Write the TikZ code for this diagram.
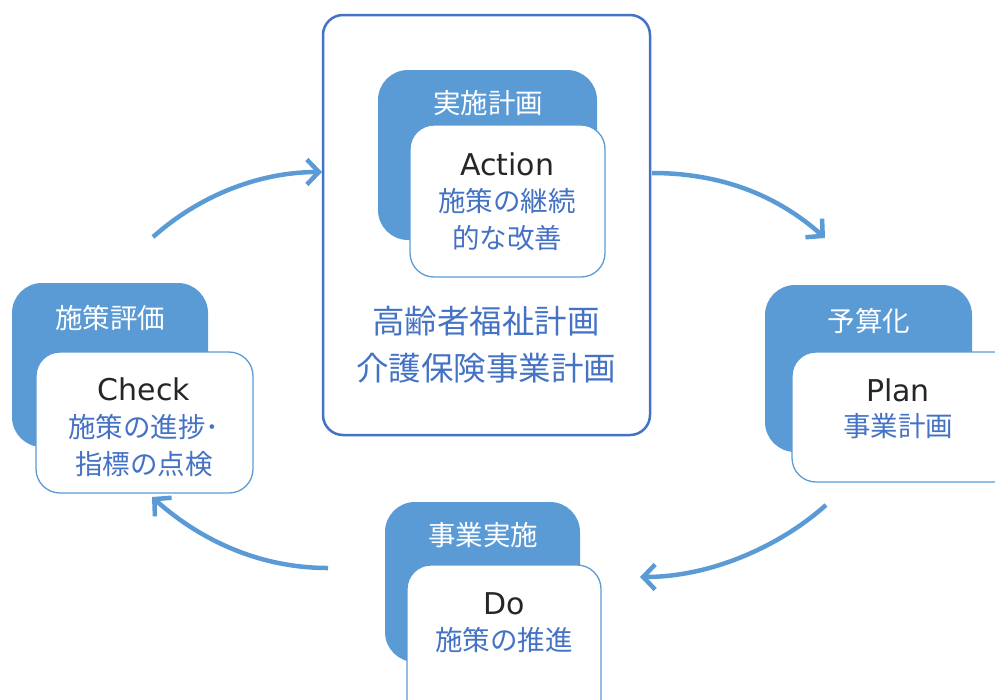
\documentclass[tikz,border=0pt]{standalone}
\usepackage{fontspec}
\setmainfont{Noto Sans CJK JP}
\newfontfamily\latinfont{DejaVu Sans}
\usepackage{xcolor}
\usetikzlibrary{arrows.meta, positioning}
\definecolor{backblue}{HTML}{5B9BD5}
\definecolor{frameblue}{HTML}{4472C4}
\definecolor{textblue}{HTML}{4472C4}
\definecolor{textblack}{HTML}{262626}
\tikzset{
	backbox/.style={rectangle, rounded corners=30pt, fill=backblue, draw=none},
	frontbox/.style={rectangle, rounded corners=24pt, fill=white, draw=backblue, line width=1.3pt},
	cycle/.style={draw=backblue, line width=4.5pt, -{Straight Barb[length=12pt,width=25pt,line width=4.5pt]}}
}
\newcommand{\jpsize}{\fontsize{27.5}{37}\selectfont}
\newcommand{\ensize}{\fontsize{30}{37}\selectfont\latinfont}

\begin{document}
\begin{tikzpicture}[
	x=1pt, y=-1pt,
	tag/.style={text=white, font=\jpsize},
	head/.style={text=textblack, font=\ensize},
	sub/.style={text=textblue, font=\jpsize, align=center},
	title/.style={text=textblue, font=\fontsize{32.5}{47}\selectfont, align=center}]
	\useasboundingbox (0,0) rectangle (995,699);

	\node[rectangle, rounded corners=20pt, draw=frameblue, line width=2.5pt, minimum width=327pt, minimum height=420pt] (frame) at (486.5,225) {};
	\node[title] (goal) at (486,345) {高齢者福祉計画\\介護保険事業計画};

	\node[backbox, minimum width=219pt, minimum height=170pt] (actB) at (487.5,155) {};
	\node[frontbox, minimum width=195pt, minimum height=152pt] (actF) at (507.5,201) {};
	\node[tag] (actT) at (488,103) {実施計画};
	\node[head] (actH) at (507,164) {Action};
	\node[sub] (actS) at (507,220) {施策の継続\\的な改善};

	\node[backbox, minimum width=207pt, minimum height=167pt] (plnB) at (868.5,368.5) {};
	\node[frontbox, minimum width=230pt, minimum height=130pt] (plnF) at (907,417) {};
	\node[tag] (plnT) at (869,321) {予算化};
	\node[head] (plnH) at (898,390) {Plan};
	\node[sub] (plnS) at (898,426) {事業計画};

	\node[backbox, minimum width=195pt, minimum height=160pt] (doB) at (482.5,582) {};
	\node[frontbox, minimum width=194pt, minimum height=160pt] (doF) at (504,645) {};
	\node[tag] (doT) at (483,535) {事業実施};
	\node[head] (doH) at (504,604) {Do};
	\node[sub] (doS) at (504,640) {施策の推進};

	\node[backbox, minimum width=196pt, minimum height=164pt] (chkB) at (110,365) {};
	\node[frontbox, minimum width=217pt, minimum height=141pt] (chkF) at (144.5,422.5) {};
	\node[tag] (chkT) at (110,318) {施策評価};
	\node[head] (chkH) at (144,389) {Check};
	\node[sub] (chkS) at (144,446) {施策の進捗･\\指標の点検};

	\coordinate (a1) at (153,237);
	\coordinate (b1) at (322,172);
	\coordinate (a2) at (652,173);
	\coordinate (b2) at (825,238);
	\coordinate (a3) at (826,505);
	\coordinate (b3) at (640,577);
	\coordinate (a4) at (328,568);
	\coordinate (b4) at (152,497);
	\draw[cycle] (a1) .. controls +(47,-42) and +(-62,0) .. (b1);
	\draw[cycle] (a2) .. controls +(70,0) and +(-47,-42) .. (b2);
	\draw[cycle] (a3) .. controls +(-47,42) and +(70,0) .. (b3);
	\draw[cycle] (a4) .. controls +(-70,0) and +(47,42) .. (b4);
\end{tikzpicture}
\end{document}
